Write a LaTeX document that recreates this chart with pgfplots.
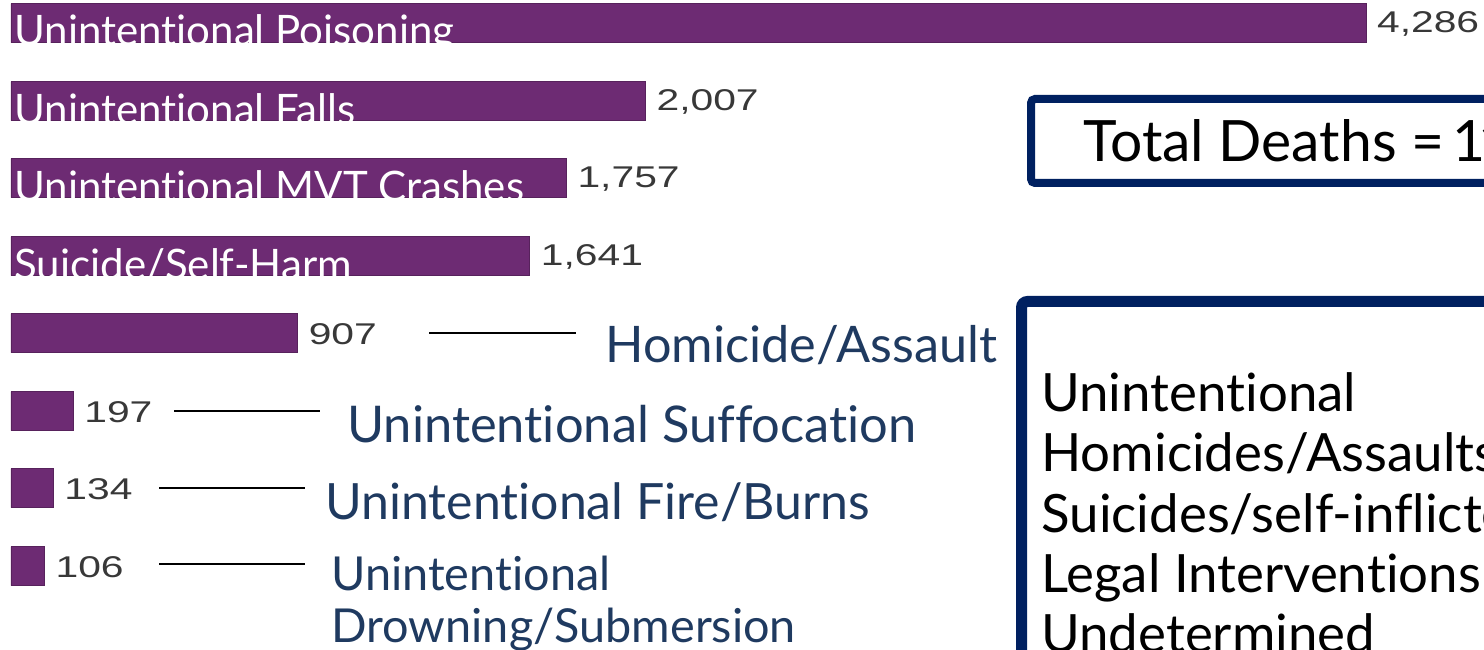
\documentclass[border=0pt]{standalone}
\usepackage{fontspec}
\setmainfont{Lato}[Ligatures={NoCommon,NoContextual,NoRare}, Contextuals={NoAlternate}]
\newfontfamily\numfont{Liberation Sans}[FakeStretch=1.36]
\newcommand\TI{t\kern0pt i}
\newcommand\FL{f\kern0pt l}
\usepackage{pgfplots}
\pgfplotsset{compat=1.18}
\definecolor{barpurple}{HTML}{6D2B73}
\definecolor{boxnavy}{HTML}{002060}
\definecolor{lblnavy}{HTML}{1F3A60}
\definecolor{numgray}{HTML}{383838}
\begin{document}
\begin{tikzpicture}
\useasboundingbox (0,0) rectangle (742pt,324.5pt);
\clip (0,0) rectangle (742pt,324.5pt);
\begin{axis}[
  at={(0,0)}, anchor=south west,
  width=742pt, height=324.5pt, scale only axis,
  xmin=-34.79, xmax=4659.2,
  ymin=0, ymax=649, y dir=reverse,
  hide axis, clip=false,
  xbar, bar width=39,
  nodes near coords={\color{numgray}\pgfmathprintnumber[assume math mode=true,1000 sep={,}]{\pgfplotspointmeta}},
  nodes near coords align={horizontal},
  every node near coord/.append style={anchor=west, xshift=2pt, yshift=-0.5pt, font=\fontsize{15}{17}\numfont},
]
\addplot[fill=barpurple, draw=barpurple!80!black, line width=0.4pt] coordinates {
  (4286,23) (2007,101) (1757,178) (1641,256) (907,333) (197,411) (134,488) (106,566)
};
\end{axis}
\begin{scope}[shift={(0,324.5pt)}, x=0.5pt, y=-0.5pt]
  % in-bar labels (white)
  \tikzset{inbar/.style={anchor=base west, inner sep=0pt, text=white, font=\fontsize{21}{24}\selectfont}}
  \node[inbar] at (14,46) {Uninten\TI onal Poisoning};
  \node[inbar] at (14,125) {Uninten\TI onal Falls};
  \node[inbar] at (14,202) {Uninten\TI onal MVT Crashes};
  \node[inbar] at (14,280) {Suicide/Self-Harm};
  % connector lines
  \draw[line width=1pt] (429,333) -- (576,333);
  \draw[line width=1pt] (174,411) -- (320,411);
  \draw[line width=1pt] (159,488) -- (305,488);
  \draw[line width=1pt] (159,564) -- (305,564);
  % right labels
  \tikzset{rl/.style={anchor=base west, inner sep=0pt, text=lblnavy}}
  \node[rl, font=\fontsize{25.2}{28}\selectfont] at (605,363) {Homicide/Assault};
  \node[rl, font=\fontsize{25.3}{28}\selectfont] at (347,442) {Uninten\TI onal Suffoca\TI on};
  \node[rl, font=\fontsize{25.0}{28}\selectfont] at (325,519) {Uninten\TI onal Fire/Burns};
  \node[rl, font=\fontsize{23.4}{26}\selectfont] at (331,590) {Uninten\TI onal};
  \node[rl, font=\fontsize{23.4}{26}\selectfont] at (331,642) {Drowning/Submersion};
  % boxes
  \draw[boxnavy, line width=4pt, rounded corners=2pt] (1031,99) rectangle (1700,183);
  \node[anchor=base west, inner sep=0pt, font=\fontsize{28.5}{31}\selectfont] at (1083,162) {Total Deaths = \kern-3pt 1\kern-4pt 1,035};
  \draw[boxnavy, line width=5.5pt, rounded corners=3pt] (1021.5,301.5) rectangle (1800,900);
  \tikzset{bx/.style={anchor=base west, inner sep=0pt, font=\fontsize{26.4}{30}\selectfont}}
  \node[bx] at (1041,411) {Uninten\TI onal};
  \node[bx] at (1041,471) {Homicides/Assaults};
  \node[bx] at (1041,532) {Suicides/self-in\FL icted};
  \node[bx] at (1041,592) {Legal Interven\TI ons};
  \node[bx] at (1041,652) {Undetermined};
\end{scope}
\end{tikzpicture}
\end{document}
